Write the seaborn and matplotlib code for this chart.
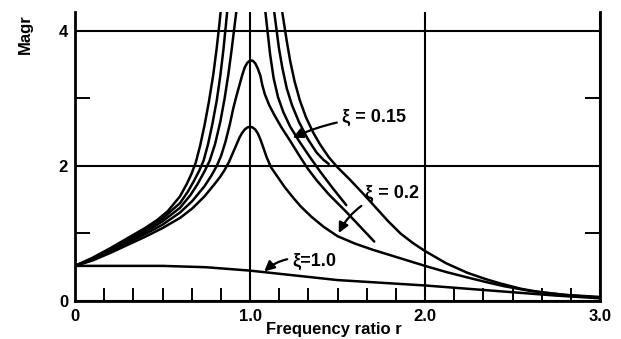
import numpy as np
import pandas as pd
import matplotlib
matplotlib.use("Agg")
import matplotlib.pyplot as plt
import seaborn as sns

# ---------------- data ----------------
# xi = 1.0
xi10_r = [0, 0.25, 0.5, 0.75, 1.0, 1.25, 1.5, 1.75, 2.0, 2.25, 2.5, 2.75, 3.0]
xi10_m = [0.52, 0.52, 0.52, 0.50, 0.45, 0.38, 0.31, 0.27, 0.23, 0.18, 0.13, 0.08, 0.04]

# xi = 0.2
xi02_r = [0, 0.1, 0.2, 0.3, 0.4, 0.5, 0.6, 0.67, 0.74, 0.8, 0.83, 0.855, 0.88, 0.9, 0.92,
          0.94, 0.955, 0.97, 0.985, 1.0, 1.015, 1.03, 1.045, 1.06, 1.075, 1.095, 1.12,
          1.16, 1.2, 1.25, 1.29, 1.35, 1.42, 1.5, 1.6, 1.7, 1.8, 1.9, 2.0, 2.12, 2.24,
          2.35, 2.45, 2.6, 2.8, 3.0]
xi02_m = [0.52, 0.60, 0.71, 0.83, 0.95, 1.08, 1.23, 1.37, 1.55, 1.74, 1.84, 1.94, 2.06, 2.18, 2.30,
          2.42, 2.49, 2.54, 2.57, 2.58, 2.57, 2.54, 2.48, 2.39, 2.28, 2.13, 1.98,
          1.83, 1.68, 1.52, 1.40, 1.25, 1.10, 0.96, 0.85, 0.76, 0.68, 0.60, 0.52, 0.43, 0.35,
          0.28, 0.22, 0.15, 0.09, 0.05]

# xi = 0.15
xi015_r = [0, 0.1, 0.2, 0.3, 0.4, 0.5, 0.6, 0.67, 0.74, 0.78, 0.81, 0.835, 0.86, 0.885,
           0.905, 0.925, 0.94, 0.955, 0.97, 0.985, 1.0, 1.015, 1.03, 1.045, 1.06, 1.07, 1.085,
           1.11, 1.14, 1.18, 1.23, 1.28, 1.33, 1.38, 1.45, 1.55, 1.63, 1.71]
xi015_m = [0.52, 0.61, 0.73, 0.86, 0.99, 1.13, 1.31, 1.48, 1.70, 1.86, 2.00, 2.15, 2.36, 2.62,
           2.86, 3.06, 3.20, 3.34, 3.46, 3.53, 3.56, 3.56, 3.52, 3.44, 3.33, 3.20, 3.06,
           2.90, 2.75, 2.57, 2.37, 2.16, 1.96, 1.79, 1.58, 1.32, 1.10, 0.88]

# lightly damped curves leaving the top of the chart (left and right branches)
c3_left_r = [0, 0.1, 0.2, 0.3, 0.4, 0.5, 0.6, 0.66, 0.7, 0.74, 0.77, 0.8, 0.83, 0.855,
             0.877, 0.895, 0.912, 0.925]
c3_left_m = [0.52, 0.62, 0.75, 0.88, 1.02, 1.18, 1.38, 1.57, 1.73, 1.92, 2.08, 2.32, 2.65, 3.0,
             3.37, 3.72, 4.08, 4.35]
c3_right_r = [1.085, 1.10, 1.115, 1.135, 1.16, 1.19, 1.23, 1.28, 1.34, 1.40, 1.47, 1.55]
c3_right_m = [4.35, 4.0, 3.65, 3.30, 3.02, 2.80, 2.58, 2.37, 2.14, 1.92, 1.68, 1.42]

c2_left_r = [0, 0.1, 0.2, 0.3, 0.4, 0.5, 0.6, 0.645, 0.68, 0.71, 0.735, 0.76, 0.785, 0.81,
             0.83, 0.848, 0.862, 0.872]
c2_left_m = [0.52, 0.63, 0.76, 0.90, 1.05, 1.22, 1.45, 1.62, 1.78, 1.93, 2.08, 2.32, 2.62, 2.97,
             3.33, 3.72, 4.08, 4.35]
c2_right_r = [1.135, 1.15, 1.165, 1.185, 1.21, 1.24, 1.28, 1.33, 1.38, 1.42, 1.45]
c2_right_m = [4.35, 4.05, 3.75, 3.45, 3.15, 2.90, 2.65, 2.40, 2.20, 2.09, 2.03]

c1_left_r = [0, 0.1, 0.2, 0.3, 0.4, 0.47, 0.53, 0.6, 0.64, 0.665, 0.69, 0.715, 0.74, 0.765,
             0.79, 0.81, 0.825, 0.835]
c1_left_m = [0.52, 0.64, 0.78, 0.93, 1.08, 1.2, 1.33, 1.55, 1.74, 1.88, 2.05, 2.3, 2.6, 2.95,
             3.35, 3.75, 4.1, 4.35]
c1_right_r = [1.18, 1.195, 1.21, 1.23, 1.255, 1.285, 1.32, 1.36, 1.40, 1.45, 1.50, 1.57, 1.65,
              1.72, 1.79, 1.86, 1.93, 2.0, 2.12, 2.24, 2.34, 2.43, 2.55, 2.66, 2.8, 3.0]
c1_right_m = [4.35, 4.1, 3.85, 3.55, 3.25, 2.97, 2.72, 2.50, 2.32, 2.13, 1.98, 1.80, 1.58,
              1.38, 1.18, 1.0, 0.86, 0.74, 0.56, 0.42, 0.33, 0.26, 0.18, 0.13, 0.09, 0.06]

x_ticks = [0, 1, 2, 3]
x_tick_labels = ["0", "1.0", "2.0", "3.0"]
y_ticks = [0, 2, 4]
y_tick_labels = ["0", "2", "4"]

branches = {
    "xi1.0": (xi10_r, xi10_m),
    "xi0.2": (xi02_r, xi02_m),
    "xi0.15": (xi015_r, xi015_m),
    "c3L": (c3_left_r, c3_left_m),
    "c3R": (c3_right_r, c3_right_m),
    "c2L": (c2_left_r, c2_left_m),
    "c2R": (c2_right_r, c2_right_m),
    "c1L": (c1_left_r, c1_left_m),
    "c1R": (c1_right_r, c1_right_m),
}
rows = []
for name, (rr, mm) in branches.items():
    for a, b in zip(rr, mm):
        rows.append((name, a, b))
df = pd.DataFrame(rows, columns=["branch", "r", "m"])

# ---------------- drawing ----------------
plt.rcParams["font.family"] = ["Liberation Sans", "DejaVu Sans"]
fig = plt.figure(figsize=(6.21, 3.39), dpi=100)
fig.patch.set_facecolor("white")
ax = fig.add_axes([75 / 621, 38 / 339, 525 / 621, 289 / 339])

sns.lineplot(data=df, x="r", y="m", units="branch", estimator=None, sort=False,
             color="black", lw=1.8, ax=ax, solid_capstyle="round",
             solid_joinstyle="round")

ax.set_xlim(0, 3.0)
ax.set_ylim(0, 4.28)
ax.set_xlabel("")
ax.set_ylabel("")

ax.set_xticks(x_ticks)
ax.set_xticklabels(x_tick_labels)
ax.set_xticks([k / 6 for k in range(1, 18) if k % 6 != 0], minor=True)
ax.set_yticks(y_ticks)
ax.set_yticklabels(y_tick_labels)
ax.set_yticks([1, 3], minor=True)

ax.tick_params(axis="x", which="major", length=0, pad=6, labelsize=12)
ax.tick_params(axis="x", which="minor", direction="in", length=9.5, width=1.4)
ax.tick_params(axis="y", which="major", length=0, pad=5, labelsize=12)
ax.tick_params(axis="y", which="minor", direction="in", length=11, width=1.4,
               left=True, right=True)
for lab in ax.get_xticklabels() + ax.get_yticklabels():
    lab.set_fontweight("bold")

ax.grid(True, which="major", color="black", lw=1.5)
for s in ["left", "bottom", "right"]:
    ax.spines[s].set_linewidth(2.0)
    ax.spines[s].set_color("black")
ax.spines["top"].set_visible(False)

arrow = dict(arrowstyle="-|>", color="black", lw=1.6, mutation_scale=15)
ax.annotate("ξ = 0.15", xy=(1.23, 2.40), xytext=(1.71, 2.72), ha="center", va="center",
            fontsize=13, fontweight="bold",
            arrowprops=dict(arrow, connectionstyle="arc3,rad=0.1"))
ax.annotate("ξ = 0.2", xy=(1.50, 0.97), xytext=(1.81, 1.60), ha="center", va="center",
            fontsize=13, fontweight="bold",
            arrowprops=dict(arrow, connectionstyle="arc3,rad=0.25"))
ax.annotate("ξ=1.0", xy=(1.07, 0.41), xytext=(1.37, 0.59), ha="center", va="center",
            fontsize=13, fontweight="bold",
            arrowprops=dict(arrow, connectionstyle="arc3,rad=0.3"))

fig.text(25 / 621, 1 - 34 / 339, "Magr", rotation=90, ha="center", va="center",
         fontsize=12, fontweight="bold")
fig.text(334 / 621, 2 / 339, "Frequency ratio r", ha="center", va="bottom",
         fontsize=12, fontweight="bold")

fig.savefig("out.png", dpi=100)
